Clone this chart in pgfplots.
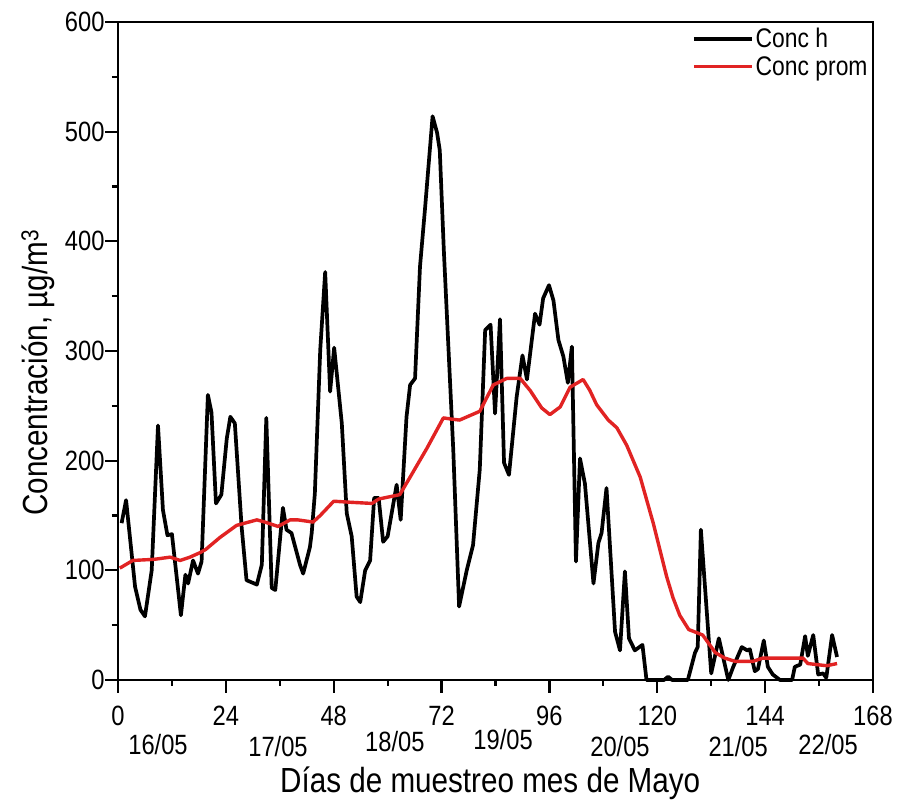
\documentclass[border=0pt]{standalone}
\usepackage{fontspec}
\setmainfont{Liberation Sans}[FakeStretch=0.85]
\usepackage{pgfplots}
\pgfplotsset{compat=1.18}
\definecolor{concred}{RGB}{225,35,35}
\begin{document}
\begin{tikzpicture}
\begin{axis}[
 scale only axis, width=755bp, height=658bp,
 xmin=0, xmax=168, ymin=0, ymax=600,
 xtick={0,24,...,168}, ytick={0,100,...,600},
 minor x tick num=1, minor y tick num=1,
 tick align=outside, xtick pos=bottom, ytick pos=left,
 major tick length=13bp, minor tick length=6bp,
 axis line style={line width=2.6bp},
 every tick/.style={line width=2.2bp, black},
 /pgf/number format/assume math mode=true,
 ticklabel style={font=\fontsize{28}{28}\selectfont},
 xticklabel style={yshift=-10bp},
 yticklabel style={xshift=3bp},
 xlabel={Días de muestreo mes de Mayo},
 ylabel={Concentración, µg/m\textsuperscript{3}},
 label style={font=\fontsize{35}{35}\selectfont},
 xlabel style={at={(axis description cs:0.493,-0.157)}, anchor=center},
 ylabel style={at={(axis description cs:-0.106,0.467)}, anchor=center},
 clip=false,
 legend style={draw=none, fill=none, at={(axis description cs:0.997,0.995)}, anchor=north east, font=\fontsize{27}{27}\selectfont, row sep=3bp, inner sep=1pt},
 legend cell align=left,
 legend image code/.code={\draw[#1] (0bp,0bp) -- (58bp,0bp);},
]
\addplot[black, line width=3.7bp, line join=round] coordinates {
(0.8,143) (1.8,164) (3.8,85) (5,64) (6,58) (7.5,100) (8.9,232) (10,155) (11,132) (12,133)
(14,59) (15,96) (15.6,88) (16.7,109) (17.8,97) (18.6,108) (20,260) (20.8,244) (21.8,161) (23,169)
(24.2,220) (25,240) (26,234) (27.5,140) (28.6,91) (30.9,87) (32,105) (33,239) (34.2,84) (35,82)
(36.7,157) (37.5,137) (38.6,134) (40.5,105) (41.2,97) (42.7,121) (43.1,134) (43.8,170) (45,301) (46.1,372)
(47.2,263) (48.1,303) (49.8,234) (50.9,152) (52,131) (53.1,76) (53.9,71) (55,100) (56.1,109) (57,166)
(58,166) (59,126) (60,131) (62,178) (62.9,146) (64.2,240) (65,269) (66.1,275) (67.2,377) (68.3,429)
(70,514) (71,499) (71.6,483) (72.5,392) (74.6,210) (75.9,67) (77.6,100) (79,123) (80.5,192) (81.7,319)
(82.9,324) (83.9,243) (85,329) (85.9,198) (87,187) (88.7,258) (90,296) (91,274) (92.8,334) (93.8,324)
(94.6,348) (95.9,360) (96.9,346) (98,310) (99.1,295) (100.1,271) (101,304) (101.9,108) (102.8,202) (103.9,179)
(105.8,88) (106.9,125) (107.6,134) (108.7,175) (110.6,44) (111.7,27) (112.8,99) (113.7,38) (115,27) (116.7,32)
(117.6,0) (121.5,0) (122.4,3) (123.3,0) (126.8,0) (128.4,25) (129,30) (129.7,137) (132,6) (133.7,38)
(135.8,0) (136.9,12) (138.8,30) (140,27) (140.6,28) (141.7,8) (142.4,10) (143.7,36) (144.6,12) (145.7,5)
(147.3,0) (150,0) (150.6,12) (151.8,14) (152.9,40) (153.5,22) (154.7,41) (155.8,5) (156.9,6) (157.6,2)
(158.9,41) (160,21)
};
\addlegendentry{Conc h}
\addplot[concred, line width=3.4bp, line join=round] coordinates {
(0.4,102) (3.3,109) (8,110) (11.6,112) (13.8,109) (16,112) (18.2,116) (19.5,119) (22.7,130) (26.4,141)
(30.9,146) (32.7,144) (35.6,140) (38.3,146) (40,146) (43.4,144) (45,150) (48,163) (52,162) (56.5,161)
(58,165) (62.7,169) (65,185) (68.7,211) (72.4,239) (74,238) (76,237) (80.5,245) (83.5,269) (86.5,275)
(89.5,275) (91.7,264) (94.3,248) (96.1,242) (98.4,249) (100.6,267) (103.5,274) (105,264) (106.5,251) (109.1,237)
(111,230) (113.2,214) (116.2,185) (119.1,143) (122.1,94) (123.5,75) (125,59) (127,46) (130.1,41) (132.9,25)
(135,20) (137.3,17) (141.3,17) (143.5,20) (147.3,20) (152.4,20) (153.5,15) (157.7,13) (160,15)
};
\addlegendentry{Conc prom}
\node[font=\fontsize{28}{28}\selectfont, yshift=-65bp] at (axis cs:8.9,0) {16/05};
\node[font=\fontsize{28}{28}\selectfont, yshift=-67bp] at (axis cs:35.6,0) {17/05};
\node[font=\fontsize{28}{28}\selectfont, yshift=-62bp] at (axis cs:61.6,0) {18/05};
\node[font=\fontsize{28}{28}\selectfont, yshift=-60bp] at (axis cs:85.7,0) {19/05};
\node[font=\fontsize{28}{28}\selectfont, yshift=-67bp] at (axis cs:111.7,0) {20/05};
\node[font=\fontsize{28}{28}\selectfont, yshift=-67bp] at (axis cs:138,0) {21/05};
\node[font=\fontsize{28}{28}\selectfont, yshift=-65bp] at (axis cs:158,0) {22/05};
\coordinate (bl) at (rel axis cs:0,0);
\coordinate (tr) at (rel axis cs:1,1);
\end{axis}
\pgfresetboundingbox
\path ([shift={(-118bp,-129bp)}]bl) rectangle ([shift={(24bp,22bp)}]tr);
\end{tikzpicture}
\end{document}
